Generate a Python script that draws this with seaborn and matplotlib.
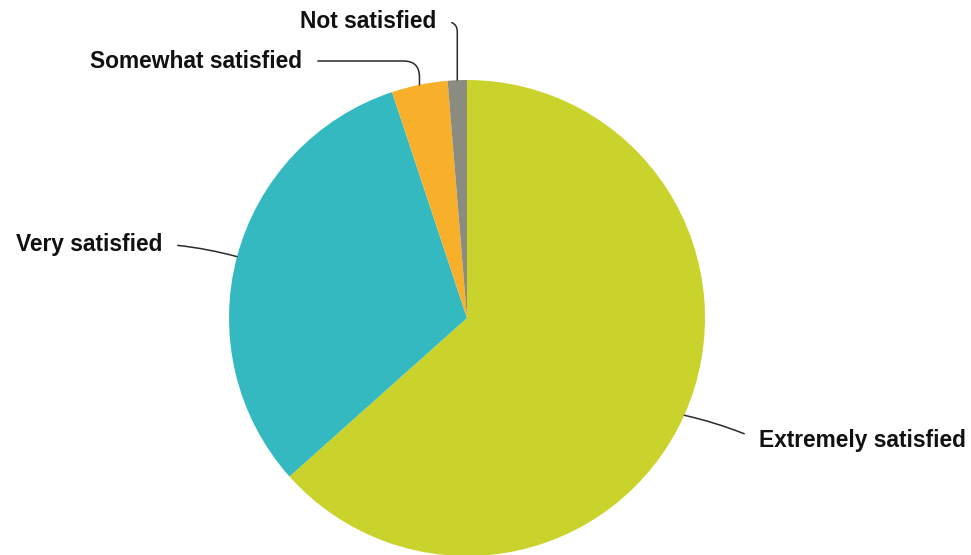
import matplotlib
matplotlib.use("Agg")
import matplotlib.pyplot as plt
import seaborn as sns
import numpy as np

categories = ["Extremely satisfied", "Very satisfied", "Somewhat satisfied", "Not satisfied"]
values = [63.4, 31.5, 3.8, 1.3]
colors = ["#CAD32B", "#35B9C0", "#F8B02A", "#8B8C80"]

sns.set_theme(style="white")
plt.rcParams['font.family'] = ['Liberation Sans', 'DejaVu Sans']

fig = plt.figure(figsize=(9.71, 5.55), dpi=100)
ax = fig.add_axes([0, 0, 1, 1])

cx, cy, r = 467, 555 - 318, 238
wedges, _ = ax.pie(values, colors=colors, startangle=90, counterclock=False,
                   center=(cx, cy), radius=r, frame=True,
                   wedgeprops=dict(linewidth=0))
ax.set_xlim(0, 971)
ax.set_ylim(0, 555)
ax.set_aspect('equal')
ax.axis('off')

label_pos = {
    "Extremely satisfied": ((759, 555 - 440), 'left', "arc3,rad=0.05", (0, 0.5)),
    "Very satisfied": ((162, 555 - 244), 'right', "arc3,rad=-0.05", (1, 0.5)),
    "Somewhat satisfied": ((302, 555 - 61), 'right', "angle,angleA=0,angleB=90,rad=16", (1, 0.5)),
    "Not satisfied": ((436, 555 - 22), 'right', "angle,angleA=0,angleB=90,rad=10", (1, 0.5)),
}

total = sum(values)
cum = 0
for cat, val in zip(categories, values):
    mid = cum + val / 2
    cum += val
    theta = np.deg2rad(90 - 360 * mid / total)
    px = cx + r * np.cos(theta)
    py = cy + r * np.sin(theta)
    (tx, ty), ha, cs, rp = label_pos[cat]
    ax.annotate(cat, xy=(px, py), xytext=(tx, ty), ha=ha, va='center',
                fontsize=16.4, fontweight='bold', color='#111111',
                arrowprops=dict(arrowstyle='-', color='#2a2a2a', lw=1.1,
                                connectionstyle=cs, relpos=rp,
                                shrinkA=9, shrinkB=0))

fig.savefig("out.png", dpi=100)
